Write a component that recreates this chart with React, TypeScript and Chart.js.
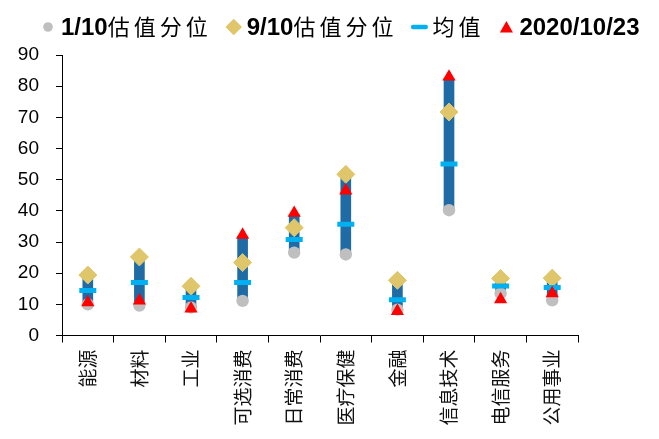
import React, { useEffect, useRef } from 'react';
import { Chart, registerables } from 'chart.js';

Chart.register(...registerables);

// Sector valuation percentiles (PE) with the latest reading
const categories = ['能源', '材料', '工业', '可选消费', '日常消费', '医疗保健', '金融', '信息技术', '电信服务', '公用事业'];
const p10Values = [10.0, 9.6, 9.0, 11.1, 26.6, 26.0, 8.3, 40.2, 13.5, 11.3];
const p90Values = [19.4, 25.2, 15.8, 23.4, 34.6, 51.7, 17.7, 71.7, 18.3, 18.4];
const meanValues = [14.4, 17.0, 12.2, 17.0, 30.8, 35.7, 11.5, 55.0, 15.9, 15.4];
const latestValues = [10.6, 11.2, 8.6, 32.3, 39.3, 46.5, 7.8, 83.0, 11.6, 13.5];
const rangeLow = [10.0, 9.6, 9.0, 11.1, 26.6, 26.0, 8.3, 40.2, 13.5, 11.3];
const rangeHigh = [19.4, 25.2, 15.8, 31.8, 38.8, 51.7, 17.7, 82.5, 18.3, 18.4];
const yMin = 0;
const yMax = 90;
const yStep = 10;

const W = 659;
const H = 439;

const GRAY = '#BFBFBF';
const GOLD = '#DFC66B';
const CYAN = '#00B0F0';
const RED = '#FF0000';
const NAVY = '#1F6BA6';

const LATIN_FONT = "bold 24px 'Liberation Sans', Arial, sans-serif";
const CJK_FONT = "22px 'Noto Sans CJK SC', sans-serif";

function drawLegendMarker(ctx: CanvasRenderingContext2D, style: string, x: number, y: number, color: string) {
  ctx.fillStyle = color;
  ctx.beginPath();
  if (style === 'circle') {
    ctx.arc(x, y, 4.8, 0, Math.PI * 2);
  } else if (style === 'rectRot') {
    ctx.moveTo(x - 8.3, y);
    ctx.lineTo(x, y - 8.3);
    ctx.lineTo(x + 8.3, y);
    ctx.lineTo(x, y + 8.3);
    ctx.closePath();
  } else if (style === 'line') {
    (ctx as any).roundRect(x - 8.5, y - 2.3, 17, 4.6, 2.2);
  } else if (style === 'triangle') {
    ctx.moveTo(x, y - 6);
    ctx.lineTo(x + 6.5, y + 5.5);
    ctx.lineTo(x - 6.5, y + 5.5);
    ctx.closePath();
  }
  ctx.fill();
}

function splitRuns(text: string) {
  const runs: { text: string; cjk: boolean }[] = [];
  for (const ch of text) {
    const cjk = ch.charCodeAt(0) > 0x2e80;
    const last = runs[runs.length - 1];
    if (last && last.cjk === cjk) last.text += ch;
    else runs.push({ text: ch, cjk });
  }
  return runs;
}

// Legend row drawn above the plot: bold Latin digits, regular CJK text
const seriesLegend = {
  id: 'seriesLegend',
  afterDraw(chart: any) {
    const ctx: CanvasRenderingContext2D = chart.ctx;
    const markerY = 27;
    const baseline = 35;
    let cx = 48;
    ctx.save();
    chart.data.datasets.forEach((ds: any) => {
      if (!ds.inLegend) return;
      drawLegendMarker(ctx, ds.pointStyle, cx, markerY, ds.pointBorderColor);
      let tx = cx + 13;
      ctx.textBaseline = 'alphabetic';
      ctx.textAlign = 'left';
      ctx.fillStyle = '#000';
      for (const run of splitRuns(ds.label)) {
        ctx.font = run.cjk ? CJK_FONT : LATIN_FONT;
        (ctx as any).letterSpacing = run.cjk ? '4px' : '0px';
        ctx.fillText(run.text, tx, baseline);
        tx += ctx.measureText(run.text).width;
      }
      (ctx as any).letterSpacing = '0px';
      cx = tx + 22;
    });
    ctx.restore();
  },
};

export default function App() {
  const canvasRef = useRef<HTMLCanvasElement>(null);

  useEffect(() => {
    const canvas = canvasRef.current;
    if (!canvas) return;
    const chart = new Chart(canvas, {
      type: 'bar',
      data: {
        labels: categories,
        datasets: [
          {
            type: 'line',
            label: '1/10估值分位',
            inLegend: true,
            data: p10Values,
            showLine: false,
            pointStyle: 'circle',
            pointRadius: 6.2,
            pointHoverRadius: 6.2,
            pointBackgroundColor: GRAY,
            pointBorderColor: GRAY,
            pointBorderWidth: 0,
            order: 3,
          } as any,
          {
            type: 'line',
            label: '9/10估值分位',
            inLegend: true,
            data: p90Values,
            showLine: false,
            pointStyle: 'rectRot',
            pointRadius: 9,
            pointHoverRadius: 9,
            pointBackgroundColor: GOLD,
            pointBorderColor: GOLD,
            pointBorderWidth: 1,
            order: 2,
          } as any,
          {
            type: 'line',
            label: '均值',
            inLegend: true,
            data: meanValues,
            showLine: false,
            pointStyle: 'line',
            pointRadius: 8.5,
            pointHoverRadius: 8.5,
            pointBackgroundColor: CYAN,
            pointBorderColor: CYAN,
            pointBorderWidth: 5,
            order: 1,
          } as any,
          {
            type: 'line',
            label: '2020/10/23',
            inLegend: true,
            data: latestValues,
            showLine: false,
            pointStyle: 'triangle',
            pointRadius: 7.6,
            pointHoverRadius: 7.6,
            pointBackgroundColor: RED,
            pointBorderColor: RED,
            pointBorderWidth: 0,
            order: 0,
          } as any,
          {
            type: 'bar',
            label: '区间',
            data: rangeLow.map((v, i) => [v, rangeHigh[i]]),
            backgroundColor: NAVY,
            borderWidth: 0,
            barThickness: 10,
            order: 4,
          } as any,
        ],
      },
      options: {
        responsive: false,
        animation: false,
        events: [],
        layout: { padding: { top: 55, right: 81, bottom: 0, left: 0 } },
        plugins: {
          legend: { display: false },
          tooltip: { enabled: false },
        },
        scales: {
          x: {
            type: 'category',
            offset: true,
            grid: {
              offset: true,
              drawOnChartArea: false,
              drawTicks: true,
              tickLength: 7,
              tickColor: '#000',
              tickWidth: 1,
            },
            border: { display: true, color: '#000', width: 1 },
            ticks: {
              autoSkip: false,
              minRotation: 90,
              maxRotation: 90,
              padding: 7,
              color: '#111',
              font: { family: "'Noto Sans CJK SC', sans-serif", size: 19 },
            },
            afterFit: (scale: any) => {
              scale.height = 103.5;
            },
          },
          y: {
            min: yMin,
            max: yMax,
            grid: {
              drawOnChartArea: false,
              drawTicks: true,
              tickLength: 6,
              tickColor: '#000',
              tickWidth: 1,
            },
            border: { display: true, color: '#000', width: 1 },
            ticks: {
              stepSize: yStep,
              padding: 17,
              color: '#000',
              font: { family: "'Liberation Sans', Arial, sans-serif", size: 19 },
            },
            afterFit: (scale: any) => {
              scale.width = 62;
            },
          },
        },
      } as any,
      plugins: [seriesLegend],
    });
    return () => chart.destroy();
  }, []);

  return (
    <div style={{ position: 'absolute', left: 0, top: 0, width: W, height: H, background: '#fff' }}>
      <canvas ref={canvasRef} width={W} height={H} style={{ display: 'block' }} />
    </div>
  );
}
